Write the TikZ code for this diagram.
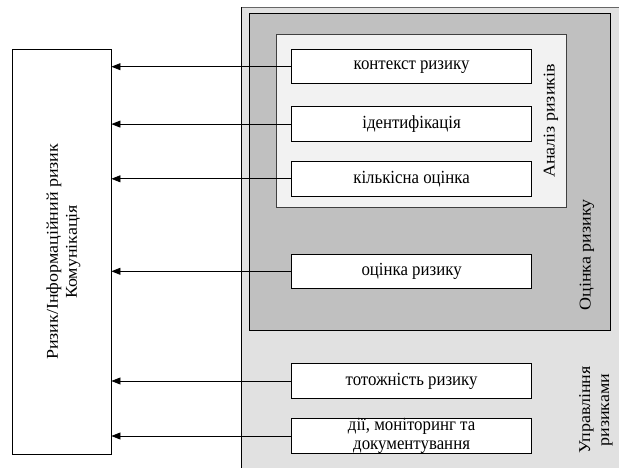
\documentclass[tikz,border=0pt]{standalone}
\usepackage{fontspec}
\setmainfont{Liberation Serif}
\newfontfamily\hfont[FakeStretch=0.91]{Liberation Serif}
\newfontfamily\vfont[FakeStretch=1.09]{Liberation Serif}
\usetikzlibrary{arrows.meta}
\definecolor{outerg}{RGB}{225,225,225}
\definecolor{darkg}{RGB}{192,192,192}
\definecolor{innerg}{RGB}{242,242,242}
\tikzset{
  stepbox/.style={draw=black, line width=0.9pt, fill=white, minimum width=240.5pt, minimum height=34.5pt, inner sep=0pt, font=\hfont\fontsize{18.5}{19.5}\selectfont, align=center},
  conn/.style={draw=black, line width=0.8pt, -{Triangle[length=9pt,width=7pt]}},
  lbl/.style={rotate=90, font=\vfont\fontsize{16.5}{19}\selectfont, align=center, inner sep=0pt}
}
\begin{document}
\begin{tikzpicture}[x=1pt,y=-1pt]
\useasboundingbox (0,0) rectangle (619,468);
% regions
\fill[outerg] (241,7.3) rectangle (625,475);
\draw[line width=0.9pt, black!60] (241,7.3) -- (625,7.3);
\draw[line width=0.9pt] (241,475) -- (241,7.3);
\draw[fill=darkg, line width=0.9pt] (249.3,13.3) rectangle (610,330);
\draw[fill=innerg, line width=0.9pt, draw=black!75] (276,34.3) rectangle (566.7,207.7);
% left box
\node[draw=black, line width=0.9pt, fill=white, minimum width=99pt, minimum height=405pt, inner sep=0pt] (comm) at (61.5,251.8) {};
\node[lbl] (commtxt) at (63.5,251.8) {Ризик/Інформаційний ризик\\Комунікація};
% step boxes
\node[stepbox] (b1) at (411.6,66.7) {контекст ризику};
\node[stepbox] (b2) at (411.6,124.1) {ідентифікація};
\node[stepbox] (b3) at (411.6,178.8) {кількісна оцінка};
\node[stepbox] (b4) at (411.6,271.3) {оцінка ризику};
\node[stepbox] (b5) at (411.6,381) {тотожність ризику};
\node[stepbox] (b6) at (411.6,436) {дії, моніторинг та\\документування};
% labels
\node[lbl] (l1) at (551,121) {Аналіз ризиків};
\node[lbl] (l2) at (587,255) {Оцінка ризику};
\node[lbl] (l3) at (596,410) {Управління\\ризиками};
% connectors
\foreach \b in {b1,b2,b3,b4,b5,b6}{
  \draw[conn] (\b.west) -- (\b.west -| comm.east);
}
\end{tikzpicture}
\end{document}
